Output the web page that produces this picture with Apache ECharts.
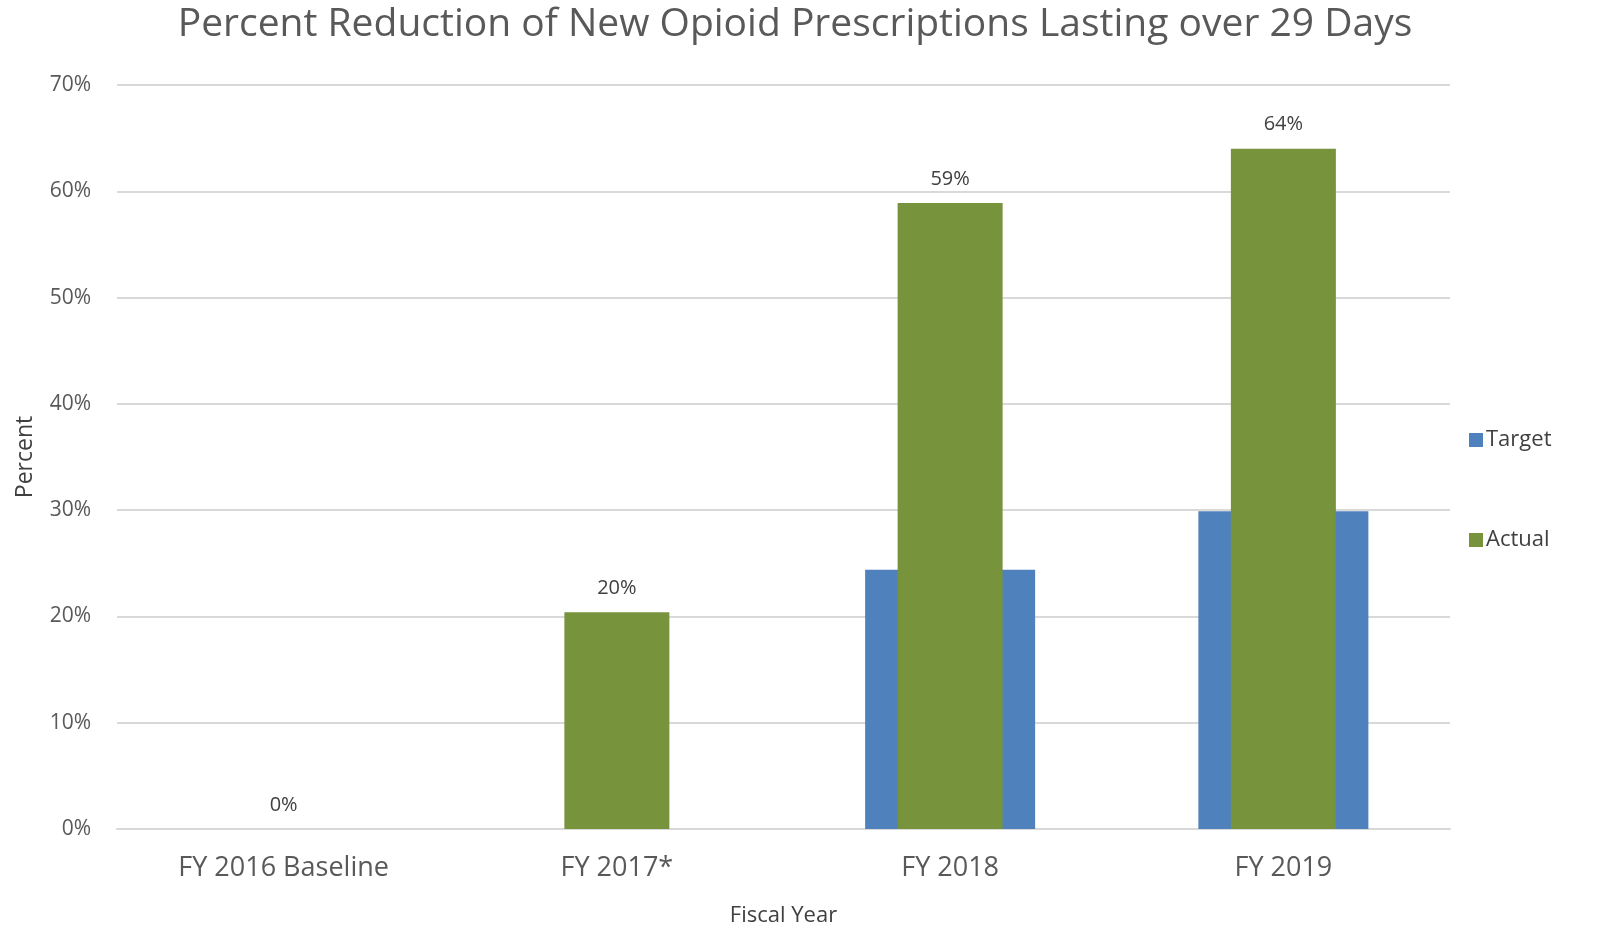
<!DOCTYPE html>
<html>
<head>
<meta charset="utf-8">
<script src="https://cdn.jsdelivr.net/npm/echarts@6/dist/echarts.min.js"></script>
<style>
html,body{margin:0;padding:0;background:#fff;}
#chart{width:1599px;height:943px;}
</style>
</head>
<body>
<div id="chart"></div>
<script>
const categories = ['FY 2016 Baseline', 'FY 2017*', 'FY 2018', 'FY 2019'];
const targetValues = [null, null, 24.4, 29.9];
const actualValues = [0, 20.4, 58.9, 64.0];
const yTicks = [0, 10, 20, 30, 40, 50, 60, 70];

const FONT = '"Open Sans", "Noto Sans", sans-serif';
const TXT = '#595959';

const chart = echarts.init(document.getElementById('chart'));
chart.setOption({
  backgroundColor: '#ffffff',
  animation: false,
  title: {
    text: 'Percent Reduction of New Opioid Prescriptions Lasting over 29 Days',
    left: 790, textAlign: 'center', top: 0,
    textStyle: { fontFamily: FONT, fontSize: 39, fontWeight: 'normal', color: TXT }
  },
  legend: {
    orient: 'vertical',
    left: 1464, top: 424,
    itemWidth: 14, itemHeight: 14, itemGap: 78,
    icon: 'rect',
    textStyle: { fontFamily: FONT, fontSize: 22, color: '#404040', padding: [0,0,0,-2] },
    data: ['Target', 'Actual']
  },
  grid: { left: 117, right: 149, top: 85, bottom: 114, containLabel: false },
  xAxis: [
    {
      type: 'category', data: categories,
      name: 'Fiscal Year', nameLocation: 'middle', nameGap: 76,
      nameTextStyle: { fontFamily: FONT, fontSize: 22, color: '#404040' },
      axisLine: { show: true, lineStyle: { color: '#D9D9D9', width: 2 } },
      axisTick: { show: false },
      axisLabel: { fontFamily: FONT, fontSize: 27, color: TXT, margin: 26 }
    },
    {
      type: 'category', data: categories, show: false, position: 'bottom'
    }
  ],
  yAxis: {
    type: 'value', min: yTicks[0], max: yTicks[yTicks.length - 1], interval: 10,
    name: 'Percent', nameLocation: 'middle', nameGap: 80, nameRotate: 90,
    nameTextStyle: { fontFamily: FONT, fontSize: 23, color: '#404040' },
    axisLine: { show: false }, axisTick: { show: false },
    axisLabel: { formatter: '{value}%', fontFamily: FONT, fontSize: 21, color: TXT, margin: 26 },
    splitLine: { lineStyle: { color: '#D9D9D9', width: 2 } }
  },
  series: [
    {
      name: 'Target', type: 'bar', xAxisIndex: 0, data: targetValues,
      barWidth: 170, itemStyle: { color: '#4F81BD' }, z: 2
    },
    {
      name: 'Actual', type: 'bar', xAxisIndex: 1, data: actualValues,
      barWidth: 105, itemStyle: { color: '#77933C' }, z: 3,
      label: {
        show: true, position: 'top', distance: 14,
        formatter: p => Math.round(p.value) + '%',
        fontFamily: FONT, fontSize: 20, color: '#404040'
      }
    }
  ]
});
</script>
</body>
</html>
